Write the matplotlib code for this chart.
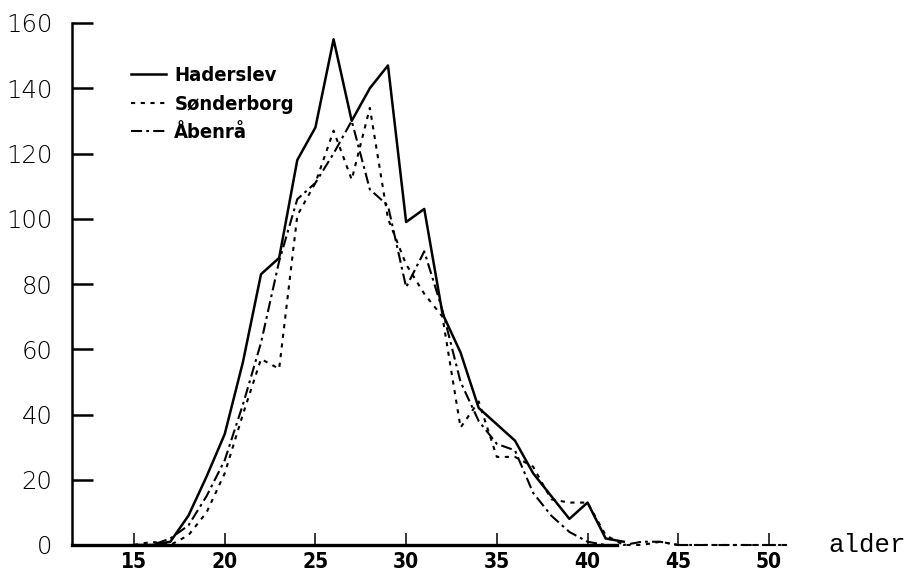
import matplotlib.pyplot as plt

plt.rcParams['lines.scale_dashes'] = False

# ages (alder) and counts
ages_h = list(range(15, 43))
haderslev = [0, 0, 1, 9, 21, 34, 56, 83, 88, 118, 128, 155, 130, 140, 147,
             99, 103, 71, 59, 42, 37, 32, 22, 15, 8, 13, 2, 1]

ages = list(range(15, 52))
sonderborg = [0, 1, 0, 3, 10, 22, 40, 57, 54, 101, 111, 127, 112, 134, 100,
              86, 77, 70, 36, 44, 27, 27, 24, 14, 13, 13, 3, 0, 0, 1, 0,
              0, 0, 0, 0, 0, 0]
aabenraa = [0, 0, 2, 6, 15, 26, 43, 62, 87, 106, 111, 120, 130, 109, 104,
            79, 90, 72, 50, 38, 31, 29, 16, 9, 4, 1, 0, 0, 1, 1, 0,
            0, 0, 0, 0, 0, 0]

xticks = [15, 20, 25, 30, 35, 40, 45, 50]
yticks = [0, 20, 40, 60, 80, 100, 120, 140, 160]

fig = plt.figure(figsize=(9.09, 5.75), dpi=100)
ax = fig.add_axes([72 / 909, 30 / 575, 720.5 / 909, 522 / 575])
ax.set_xlim(11.58, 51.3)
ax.set_ylim(0, 160)

ax.plot(ages_h, haderslev, color='black', lw=1.8, clip_on=False, label='Haderslev')
ax.plot(ages, sonderborg, color='black', lw=1.5, dashes=(3, 4), clip_on=False,
        label='Sønderborg')
ax.plot(ages, aabenraa, color='black', lw=1.5, dashes=(8, 3, 2, 3), clip_on=False,
        label='Åbenrå')

ax.spines['top'].set_visible(False)
ax.spines['right'].set_visible(False)
ax.spines['left'].set_linewidth(1.8)
ax.spines['bottom'].set_linewidth(2.4)
ax.spines['bottom'].set_bounds(11.58, 41.6)

ax.set_xticks(xticks)
ax.set_yticks(yticks)
ax.tick_params(axis='y', direction='in', length=15, width=1.8, pad=14)
ax.tick_params(axis='x', direction='in', length=9, width=1.1, pad=5)
for t in ax.get_yticklabels():
    t.set_fontfamily(['DejaVu Sans'])
    t.set_fontweight('light')
    t.set_fontsize(17.5)
for t in ax.get_xticklabels():
    t.set_fontfamily(['DejaVu Sans'])
    t.set_fontstretch('condensed')
    t.set_fontweight('bold')
    t.set_fontsize(15)

leg = ax.legend(loc='upper left', bbox_to_anchor=(131 / 909, 1 - 66 / 575),
                bbox_transform=fig.transFigure, frameon=False,
                prop={'family': ['DejaVu Sans'], 'stretch': 'condensed',
                      'weight': 'bold', 'size': 14.5},
                handlelength=1.75, handletextpad=0.4, labelspacing=0.48,
                borderpad=0, borderaxespad=0)

fig.text(828 / 909, 1 - 545 / 575, 'alder', family='Liberation Mono',
         fontsize=18.5, va='center', ha='left')

fig.savefig('out.png', dpi=100)
